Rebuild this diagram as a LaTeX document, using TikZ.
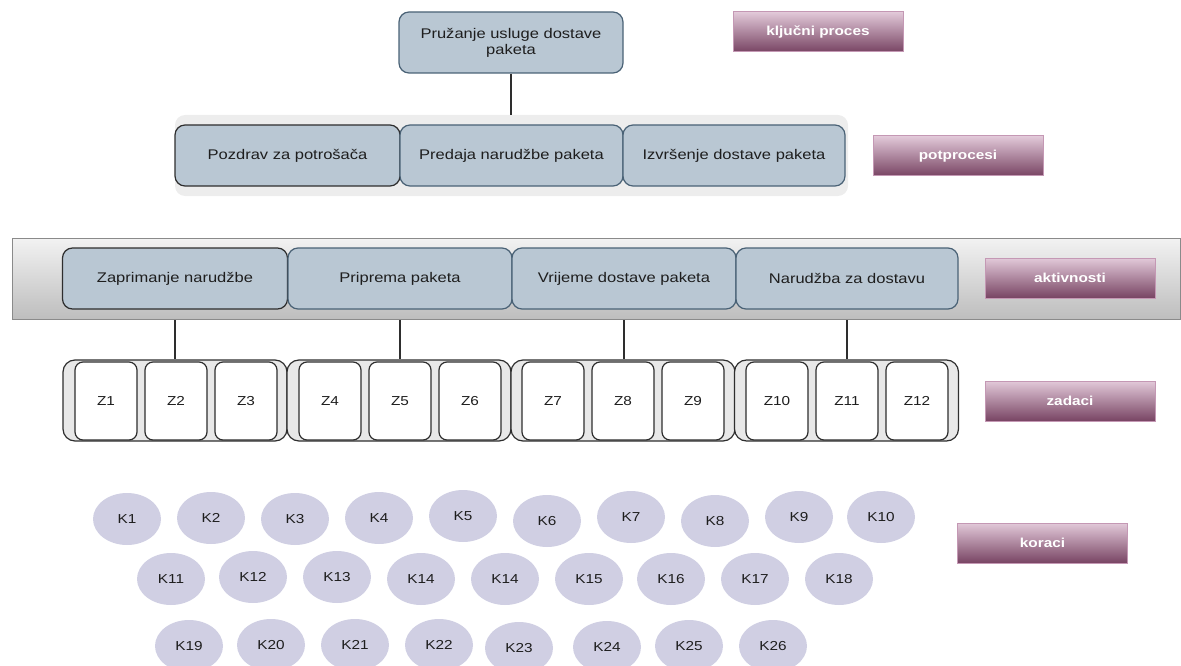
\documentclass[tikz,border=0pt]{standalone}
\usepackage{fontspec}
\setmainfont{Liberation Sans}[FakeStretch=1.18]
\usetikzlibrary{shapes.geometric}
\definecolor{boxfill}{HTML}{B9C7D3}
\definecolor{boxedge}{HTML}{4A6276}
\definecolor{darkedge}{HTML}{2E2E2E}
\definecolor{legtop}{HTML}{E2C9D9}
\definecolor{legbot}{HTML}{784463}
\definecolor{legedge}{HTML}{C498B4}
\definecolor{contfill}{HTML}{EDEDED}
\definecolor{bandtop}{HTML}{F2F2F2}
\definecolor{bandbot}{HTML}{BDBDBD}
\definecolor{bandedge}{HTML}{8A8A8A}
\definecolor{zgfill}{HTML}{E8E8E8}
\definecolor{kfill}{HTML}{D0CFE3}
\definecolor{txt}{HTML}{1E1E1E}
\tikzset{
  proc/.style={rectangle, rounded corners=10pt, fill=boxfill, draw=boxedge, line width=1.2pt,
    inner sep=0pt, minimum height=61pt, text=txt, font=\fontsize{14}{16}\selectfont, align=center},
  procfirst/.style={proc, draw=darkedge},
  legbox/.style={rectangle, top color=legtop, bottom color=legbot, draw=legedge, line width=1pt,
    minimum width=170pt, minimum height=40pt, inner sep=0pt, text=white,
    font=\fontsize{13}{15}\selectfont\bfseries},
  zgroup/.style={rectangle, rounded corners=12pt, fill=zgfill, draw=darkedge, line width=1.2pt,
    minimum width=224pt, minimum height=81pt, inner sep=0pt},
  zbox/.style={rectangle, rounded corners=8pt, fill=white, draw=darkedge, line width=1.2pt,
    minimum width=62pt, minimum height=78pt, inner sep=0pt, text=txt, font=\fontsize{13}{15}\selectfont},
  kstep/.style={ellipse, fill=kfill, minimum width=68pt, minimum height=52pt, inner sep=0pt,
    text=txt, font=\fontsize{13}{15}\selectfont},
  conn/.style={draw=darkedge, line width=1.4pt}
}
\begin{document}
\begin{tikzpicture}[x=1pt,y=-1pt]
\useasboundingbox (0,0) rectangle (1181,666);
% key process
\node[proc, minimum width=224pt] (top) at (511,42.5) {\raisebox{-2pt}{\parbox{200pt}{\centering Pružanje usluge dostave\\paketa}}};
\node[legbox] (l1) at (818,32) {ključni proces};
% subprocess container
\node[rectangle, rounded corners=10pt, fill=contfill, minimum width=673pt, minimum height=81pt, inner sep=0pt] (subc) at (511.5,155.5) {};
\node[procfirst, minimum width=225pt] (s1) at (287.5,155.5) {Pozdrav za potrošača};
\node[proc, minimum width=223pt] (s2) at (511.5,155.5) {Predaja narudžbe paketa};
\node[proc, minimum width=222pt] (s3) at (734,155.5) {Izvršenje dostave paketa};
\node[legbox] (l2) at (958,156) {potprocesi};
\draw[conn] (top.south) -- (top.south |- subc.north);
% activities band
\node[rectangle, top color=bandtop, bottom color=bandbot, draw=bandedge, line width=1.2pt,
  minimum width=1168pt, minimum height=81pt, inner sep=0pt] (band) at (596.5,279) {};
\node[procfirst, minimum width=225pt] (a1) at (175,278.5) {Zaprimanje narudžbe};
\node[proc, minimum width=224pt] (a2) at (400,278.5) {Priprema paketa};
\node[proc, minimum width=224pt] (a3) at (624,278.5) {Vrijeme dostave paketa};
\node[proc, minimum width=222pt] (a4) at (847,278.5) {Narudžba za dostavu};
\node[legbox] (l3) at (1070,278) {aktivnosti};
% task groups
\node[zgroup] (g1) at (175,400.5) {};
\node[zgroup] (g2) at (399,400.5) {};
\node[zgroup] (g3) at (623,400.5) {};
\node[zgroup] (g4) at (846.5,400.5) {};
\node[zbox] (z1) at (106,401) {Z1};
\node[zbox] (z2) at (176,401) {Z2};
\node[zbox] (z3) at (246,401) {Z3};
\node[zbox] (z4) at (330,401) {Z4};
\node[zbox] (z5) at (400,401) {Z5};
\node[zbox] (z6) at (470,401) {Z6};
\node[zbox] (z7) at (553,401) {Z7};
\node[zbox] (z8) at (623,401) {Z8};
\node[zbox] (z9) at (693,401) {Z9};
\node[zbox] (z10) at (777,401) {Z10};
\node[zbox] (z11) at (847,401) {Z11};
\node[zbox] (z12) at (917,401) {\raisebox{-3pt}{Z12}};
\node[legbox] (l4) at (1070,401) {zadaci};
\draw[conn] (a1.south |- band.south) -- (a1.south |- g1.north);
\draw[conn] (a2.south |- band.south) -- (a2.south |- g2.north);
\draw[conn] (a3.south |- band.south) -- (a3.south |- g3.north);
\draw[conn] (a4.south |- band.south) -- (a4.south |- g4.north);
% steps
\node[kstep] (k1) at (127,519) {K1};
\node[kstep] (k2) at (211,518) {K2};
\node[kstep] (k3) at (295,519) {K3};
\node[kstep] (k4) at (379,518) {K4};
\node[kstep] (k5) at (463,516) {K5};
\node[kstep] (k6) at (547,521) {K6};
\node[kstep] (k7) at (631,517) {K7};
\node[kstep] (k8) at (715,521) {K8};
\node[kstep] (k9) at (799,517) {K9};
\node[kstep] (k10) at (881,517) {K10};
\node[kstep] (k11) at (171,579) {K11};
\node[kstep] (k12) at (253,577) {K12};
\node[kstep] (k13) at (337,577) {K13};
\node[kstep] (k14) at (421,579) {K14};
\node[kstep] (k14b) at (505,579) {K14};
\node[kstep] (k15) at (589,579) {K15};
\node[kstep] (k16) at (671,579) {K16};
\node[kstep] (k17) at (755,579) {K17};
\node[kstep] (k18) at (839,579) {K18};
\node[kstep] (k19) at (189,646) {K19};
\node[kstep] (k20) at (271,645) {K20};
\node[kstep] (k21) at (355,645) {K21};
\node[kstep] (k22) at (439,645) {K22};
\node[kstep] (k23) at (519,648) {K23};
\node[kstep] (k24) at (607,647) {K24};
\node[kstep] (k25) at (689,646) {K25};
\node[kstep] (k26) at (773,646) {K26};
\node[legbox] (l5) at (1042.5,543) {koraci};
\end{tikzpicture}
\end{document}
